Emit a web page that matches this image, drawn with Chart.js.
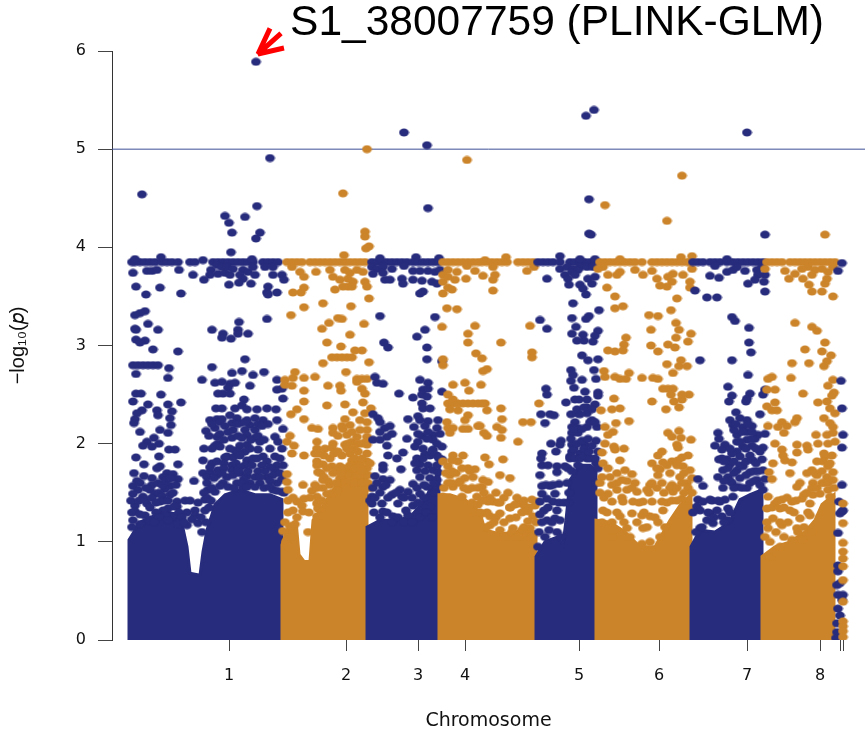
<!DOCTYPE html>
<html>
<head>
<meta charset="utf-8">
<title>S1_38007759 (PLINK-GLM)</title>
<script src="https://cdn.jsdelivr.net/npm/chart.js@4/dist/chart.umd.js"></script>
<style>
html, body { margin: 0; padding: 0; background: #fff; }
canvas { display: block; }
</style>
</head>
<body>
<canvas id="manhattan" width="866" height="732"></canvas>
<script>
var NAVY = '#282c7c', ORANGE = '#cc842a';

// x = cumulative position along the genome, y = -log10(p)
var tickPositions = [117, 234, 306, 353, 467, 547, 635, 708, 728, 731];
var tickLabels = ['1', '2', '3', '4', '5', '6', '7', '8', '', ''];
var yTicks = [0, 1, 2, 3, 4, 5, 6];
var threshold = 5;
var arrowX = [146, 158, 146, 169, 146, 172];
var arrowY = [5.97, 6.23, 5.97, 6.18, 5.97, 6.03];

// top of the solid mass of overlapping points, per chromosome: x, y, x, y ...
var chr1Mass = [17,0, 17,1.02, 28,1.2, 38,1.25, 53,1.3, 68,1.28, 75,0.95, 78,0.68, 88,0.66, 91,0.9, 95,1.12, 103,1.38, 113,1.48, 128,1.53, 143,1.48, 158,1.48, 170,1.43, 170,0];
var chr2Mass = [170,0, 170,0.97, 175,1.12, 184,1.22, 187,0.87, 192,0.8, 198,0.8, 201,1.22, 208,1.32, 218,1.48, 228,1.63, 238,1.77, 248,1.83, 255,1.73, 255,0];
var chr3Mass = [255,0, 255,1.15, 268,1.22, 283,1.22, 298,1.25, 313,1.43, 327,1.73, 327,0];
var chr4Mass = [327,0, 327,1.48, 338,1.48, 353,1.43, 368,1.3, 373,1.12, 388,1.08, 403,1.1, 413,1.12, 424,1.1, 424,0];
var chr5Mass = [424,0, 424,0.85, 433,1, 446,1.05, 449,1, 451,0.97, 454,1.22, 458,1.63, 468,1.78, 478,1.78, 484,1.73, 484,0];
var chr6Mass = [484,0, 484,1.22, 498,1.2, 513,1.1, 528,0.95, 543,0.95, 558,1.22, 568,1.37, 579,1.48, 579,0];
var chr7Mass = [579,0, 579,0.95, 588,1.12, 603,1.1, 618,1.2, 623,1.32, 628,1.43, 638,1.48, 650,1.53, 650,0];
var chr8Mass = [650,0, 650,0.85, 663,0.95, 678,1, 693,1.1, 703,1.22, 710,1.38, 722,1.48, 722,0];

// single markers above the mass: x, y, x, y ...
var chr1 = [144,5.89, 158,4.91, 30,4.54, 145,4.42, 113,4.32, 133,4.31, 117,4.25, 120,4.15, 148,4.15, 144,4.09, 119,3.95,
20,3.85, 23,3.85, 28,3.85, 33,3.85, 38,3.85, 43,3.85, 50,3.85, 55,3.85, 60,3.85, 66,3.85, 78,3.85, 83,3.85, 91,3.87, 101,3.85, 106,3.85, 111,3.85, 116,3.85, 121,3.85, 126,3.85, 131,3.85, 136,3.85, 141,3.85, 151,3.85, 156,3.85, 161,3.85, 166,3.85,
23,3.88, 49,3.9, 140,3.88, 21,3.74, 35,3.76, 40,3.76, 45,3.77, 67,3.77, 81,3.72, 99,3.77, 98,3.72, 106,3.73, 113,3.74, 118,3.72, 105,3.82, 110,3.8, 115,3.8, 121,3.78, 131,3.77, 136,3.75, 143,3.72, 141,3.8, 128,3.72, 131,3.68, 92,3.67, 117,3.62, 127,3.64, 139,3.63,
153,3.8, 161,3.8, 161,3.72, 170,3.72, 172,3.67, 24,3.6, 48,3.59, 34,3.52, 69,3.53, 156,3.6, 155,3.54, 156,3.52, 165,3.54, 33,3.35, 28,3.33, 23,3.31, 36,3.22, 155,3.27, 127,3.24, 23,3.17, 46,3.16, 100,3.16, 126,3.16,
24,3.16, 126,3.12, 136,3.12, 111,3.12, 110,3.08, 119,3.07, 24,3.06, 33,3.05, 28,3.03, 41,2.96, 66,2.94,
21,2.8, 26,2.8, 31,2.8, 36,2.8, 41,2.8, 46,2.8, 57,2.77, 24,2.71, 56,2.67, 90,2.65, 100,2.78, 133,2.86, 120,2.72, 130,2.74, 141,2.7, 152,2.73, 103,2.62, 110,2.63, 118,2.61, 123,2.62, 116,2.57, 138,2.59, 165,2.65, 165,2.55, 170,2.56,
24,2.51, 29,2.51, 49,2.5, 106,2.51, 111,2.51, 118,2.51, 21,2.43, 36,2.4, 56,2.4, 69,2.42, 132,2.45, 171,2.46,
104,2.36, 110,2.36, 123,2.36, 130,2.39, 135,2.35, 145,2.35, 155,2.36, 164,2.35, 30,2.34, 25,2.31, 45,2.34, 46,2.29, 60,2.33, 23,2.25, 58,2.26, 59,2.19, 22,2.21,
118,2.29, 125,2.26, 98,2.24, 105,2.25, 110,2.25, 135,2.24, 143,2.26, 151,2.24, 156,2.2, 165,2.24, 120,2.21, 128,2.21, 138,2.19,
28,2.12, 48,2.14, 56,2.11, 94,2.13, 103,2.16, 121,2.14, 133,2.14, 143,2.14, 171,2.15, 105,2.07, 120,2.06, 135,2.09, 143,2.06, 163,2.07, 42,2.06, 35,2.02, 47,2, 31,1.98, 40,1.97, 106,2, 128,1.98, 135,1.99, 148,2.02, 166,2.02, 92,1.95, 103,1.98, 57,1.94, 63,1.94, 123,1.93, 133,1.92,
47,1.87, 24,1.86, 91,1.83, 115,1.87, 121,1.86, 135,1.83, 141,1.85, 151,1.87, 163,1.87, 100,1.8, 32,1.79, 66,1.79, 48,1.77, 120,1.78, 133,1.78, 165,1.78, 171,1.78, 45,1.75, 106,1.73, 120,1.73, 163,1.73,
22,1.7, 91,1.7, 98,1.71, 55,1.7, 61,1.69, 128,1.7, 32,1.67, 40,1.65, 51,1.66, 95,1.66, 105,1.68, 115,1.66, 121,1.68, 135,1.67, 143,1.66, 155,1.66, 161,1.68, 82,1.62, 66,1.64, 60,1.65, 21,1.57, 40,1.58, 46,1.6, 58,1.57, 95,1.6, 111,1.6, 125,1.6, 138,1.6, 148,1.6, 165,1.6,
26,1.53, 38,1.53, 53,1.54, 21,1.49, 31,1.46, 43,1.49, 96,1.53, 103,1.51, 131,1.55, 161,1.53, 170,1.51, 48,1.41, 65,1.41, 73,1.42, 78,1.42, 86,1.4, 23,1.37, 35,1.39, 56,1.34, 51,1.32, 65,1.36, 93,1.32, 23,1.31, 75,1.3, 83,1.32, 83,1.27, 33,1.27, 61,1.26, 53,1.27, 93,1.43, 80,1.23, 86,1.19, 75,1.17, 21,1.22, 38,1.21, 68,1.21];

var chr2 = [255,5, 231,4.55, 253,4.16, 253,4.11, 257,4.01, 254,3.99, 232,3.92,
175,3.85, 180,3.85, 185,3.85, 190,3.85, 198,3.85, 203,3.85, 208,3.85, 213,3.85, 218,3.85, 223,3.85, 228,3.85, 233,3.85, 238,3.85, 243,3.85, 248,3.85, 253,3.85,
180,3.8, 188,3.75, 192,3.7, 204,3.75, 218,3.77, 221,3.7, 228,3.67, 233,3.77, 238,3.74, 245,3.77, 236,3.68, 241,3.65, 251,3.75, 253,3.65, 236,3.6, 223,3.57, 231,3.6, 240,3.6, 255,3.6, 192,3.59, 189,3.54, 181,3.54, 257,3.48, 211,3.43, 239,3.4, 192,3.39, 179,3.31, 226,3.28, 230,3.27, 217,3.23, 252,3.22, 210,3.17,
238,3.11, 215,3.03, 229,2.99, 250,2.95, 243,2.95, 220,2.88, 225,2.88, 230,2.88, 235,2.88, 240,2.88, 211,2.82, 257,2.83, 234,2.73, 183,2.73, 203,2.68, 192,2.67, 181,2.67, 173,2.65, 173,2.6, 180,2.59, 245,2.66, 250,2.66, 255,2.66, 245,2.63, 250,2.56, 253,2.51,
216,2.59, 228,2.59, 229,2.54, 192,2.54, 192,2.43, 215,2.39, 233,2.4, 251,2.42, 185,2.35, 179,2.3, 241,2.32, 259,2.36, 253,2.31, 192,2.25, 233,2.25, 248,2.24, 255,2.22, 238,2.19, 230,2.18, 221,2.16, 200,2.16, 206,2.15, 178,2.08, 221,2.11, 255,2.14, 235,2.09, 245,2.07, 255,2.07,
175,2.02, 205,2.02, 221,2, 233,1.99, 255,1.99, 182,1.98, 205,1.95, 213,1.95, 220,1.96, 235,1.95, 180,1.9, 192,1.88, 203,1.9, 238,1.9, 246,1.92, 255,1.9, 205,1.82, 211,1.79, 240,1.83, 255,1.82, 220,1.77, 228,1.77, 205,1.78, 241,1.75, 255,1.75, 206,1.71, 175,1.69, 221,1.7, 235,1.68, 248,1.68, 256,1.68, 228,1.65,
175,1.61, 211,1.63, 203,1.58, 191,1.58, 218,1.58, 176,1.53, 233,1.6, 205,1.46, 211,1.55, 192,1.44, 185,1.41, 205,1.39, 190,1.37, 181,1.32, 191,1.31, 215,1.49, 206,1.34, 183,1.18, 178,1.16, 171,1.11, 196,1.1, 205,1.26];

var chr3 = [292,5.17, 315,5.04, 316,4.4, 304,3.9,
260,3.85, 265,3.85, 270,3.85, 275,3.85, 280,3.85, 285,3.85, 290,3.85, 295,3.85, 301,3.85, 306,3.85, 311,3.85, 316,3.85, 321,3.85, 326,3.85, 268,3.89, 327,3.89,
260,3.8, 265,3.78, 271,3.8, 280,3.78, 261,3.73, 271,3.74, 292,3.81, 301,3.76, 308,3.76, 316,3.76, 323,3.75, 328,3.77, 273,3.67, 278,3.67, 290,3.68, 291,3.63, 301,3.67, 310,3.66, 320,3.65, 325,3.63, 311,3.55, 308,3.53, 268,3.3, 323,3.29, 313,3.16,
305,3.09, 272,3.03, 276,2.98, 315,2.98, 315,2.86, 330,2.84, 263,2.68, 265,2.62, 271,2.61, 308,2.65, 316,2.62, 311,2.55, 316,2.56, 287,2.51, 330,2.53, 301,2.47, 310,2.5, 315,2.48, 310,2.41, 311,2.36, 318,2.36, 261,2.3, 266,2.26, 268,2.22, 296,2.25, 306,2.28, 308,2.24, 316,2.23, 326,2.24,
278,2.18, 273,2.16, 302,2.17, 313,2.18, 325,2.16, 268,2.12, 280,2.1, 275,2.07, 310,2.08, 321,2.09, 261,2.04, 268,2.04, 295,2.05, 306,2.02, 321,2.04, 275,1.98, 303,1.97, 311,1.95, 330,1.97, 291,1.91, 276,1.88, 285,1.85, 313,1.89, 321,1.94, 271,1.78, 330,1.84, 308,1.79, 316,1.78, 289,1.74, 271,1.74, 263,1.67, 305,1.73, 321,1.73, 326,1.71,
271,1.64, 278,1.63, 308,1.66, 318,1.65, 325,1.63, 301,1.59, 261,1.55, 271,1.56, 288,1.53, 315,1.56, 326,1.56, 260,1.46, 280,1.48, 296,1.51, 308,1.49, 270,1.39, 290,1.46, 286,1.39, 260,1.39, 271,1.31, 281,1.26, 296,1.27, 318,1.36, 301,1.37];

var chr4 = [355,4.89, 331,3.85, 336,3.85, 341,3.85, 346,3.85, 351,3.85, 356,3.85, 361,3.85, 366,3.85, 355,3.81, 363,3.76, 336,3.77, 345,3.75, 331,3.72, 336,3.7, 343,3.67, 354,3.68, 331,3.65, 336,3.59, 340,3.57, 331,3.53, 335,3.38, 345,3.37, 330,3.19, 363,3.2,
373,3.87, 394,3.9, 395,3.85, 370,3.85, 375,3.85, 380,3.85, 385,3.85, 390,3.85, 406,3.85, 411,3.85, 416,3.85, 421,3.85, 381,3.8, 371,3.71, 383,3.72, 381,3.67, 415,3.76, 422,3.8, 381,3.56,
356,3.12, 356,3.03, 364,2.92, 331,2.86, 331,2.8, 341,2.6, 353,2.62, 357,2.54, 336,2.5, 341,2.45, 336,2.41, 341,2.41, 346,2.41, 351,2.41, 356,2.41, 361,2.41, 366,2.41, 338,2.35, 346,2.34, 356,2.29, 353,2.24, 335,2.22, 336,2.16, 341,2.16, 338,2.11, 351,2.15, 356,2.15, 366,2.18,
341,1.88, 351,1.88, 340,1.83, 346,1.82, 331,1.82, 336,1.77, 350,1.75, 356,1.75, 363,1.74, 338,1.68, 353,1.65, 361,1.66, 336,1.6, 341,1.56, 356,1.53, 350,1.46, 331,1.46, 365,1.46,
418,3.2, 389,3.03, 420,2.93, 420,2.88, 370,2.87, 375,2.76, 371,2.74, 369,2.6, 373,2.41, 375,2.34, 370,2.41, 389,2.36, 390,2.25, 385,2.17, 390,2.14, 368,2.18, 411,2.22, 419,2.22, 372,2.11, 375,2.08, 389,2.06, 406,2.02, 427,2.41,
373,1.86, 391,1.84, 377,1.79, 388,1.68, 398,1.65, 371,1.63, 376,1.61, 370,1.56, 373,1.43, 381,1.41, 376,1.41, 386,1.4, 407,1.39, 420,1.43, 413,1.36, 398,1.35, 423,1.37, 425,1.41, 371,1.29, 388,1.29, 398,1.24, 416,1.31, 421,1.26, 378,1.26, 416,1.21, 401,1.14, 410,1.12, 388,1.12, 418,1.14, 378,1.17];

var chr5 = [482,5.4, 474,5.34, 477,4.49, 477,4.14, 479,4.13, 448,3.91,
426,3.85, 431,3.85, 436,3.85, 441,3.85, 448,3.85, 458,3.85, 463,3.85, 468,3.85, 473,3.85, 478,3.85, 483,3.85, 468,3.88, 483,3.88, 448,3.78, 455,3.8, 461,3.78, 468,3.8, 475,3.8, 481,3.8, 453,3.72, 460,3.75, 466,3.77, 456,3.68, 463,3.72, 435,3.68, 476,3.68, 483,3.7, 480,3.63, 457,3.62, 468,3.62, 471,3.58, 474,3.52, 461,3.43, 487,3.36, 460,3.28, 477,3.3, 474,3.27, 428,3.26, 464,3.19, 435,3.17,
460,3.12, 486,3.15, 471,3.11, 483,3.1, 465,3.05, 472,3.05, 481,3.04, 470,2.9, 476,2.85, 486,2.86, 459,2.75, 482,2.75, 459,2.64, 470,2.65, 484,2.66, 461,2.7, 462,2.57, 434,2.56, 435,2.5, 473,2.53, 486,2.52, 486,2.49, 454,2.42, 463,2.45, 467,2.45, 475,2.45, 483,2.4, 475,2.37,
429,2.3, 438,2.3, 442,2.29, 459,2.3, 465,2.31, 475,2.31, 433,2.21, 463,2.22, 480,2.24, 475,2.17, 485,2.17, 460,2.17, 466,2.16, 460,2.11, 466,2.11, 449,2.03, 484,2.03, 439,2, 448,1.99, 460,1.99, 473,1.99, 480,1.98, 444,1.92, 430,1.9, 460,1.92, 468,1.9, 486,1.92, 429,1.85, 458,1.87, 475,1.85,
430,1.78, 436,1.78, 445,1.77, 453,1.77, 428,1.68, 445,1.71, 430,1.57, 438,1.57, 447,1.59, 430,1.49, 443,1.49, 441,1.41, 435,1.44, 445,1.32, 428,1.41, 443,1.24, 448,1.22, 435,1.22];

var chr6 = [570,4.73, 493,4.43, 555,4.27, 569,3.9, 580,3.91,
488,3.85, 493,3.85, 498,3.85, 503,3.85, 508,3.85, 513,3.85, 518,3.85, 523,3.85, 530,3.85, 540,3.85, 545,3.85, 550,3.85, 555,3.85, 560,3.85, 565,3.85, 570,3.85, 575,3.85, 578,3.85, 508,3.88,
486,3.78, 491,3.8, 496,3.72, 508,3.75, 505,3.72, 523,3.77, 531,3.72, 540,3.76, 571,3.72, 580,3.78, 561,3.73, 545,3.68, 556,3.7, 560,3.65, 548,3.61, 555,3.6, 578,3.65, 578,3.59, 495,3.59, 503,3.5, 511,3.4, 503,3.38, 565,3.48, 559,3.36, 537,3.31, 546,3.3, 564,3.23, 539,3.16, 567,3.16,
579,3.12, 564,3.08, 576,3.04, 539,3, 556,3.01, 563,2.98, 514,3.08, 512,3.01, 496,2.95, 503,2.94, 511,2.95, 546,2.94, 569,2.85, 555,2.81, 567,2.79, 575,2.79, 492,2.74, 561,2.72, 517,2.72, 493,2.68, 503,2.68, 508,2.66, 514,2.66, 530,2.67, 541,2.67, 546,2.66,
551,2.56, 556,2.56, 561,2.56, 577,2.5, 559,2.5, 570,2.5, 502,2.46, 540,2.43, 562,2.43, 570,2.45, 489,2.34, 500,2.35, 508,2.36, 554,2.35, 567,2.37, 517,2.23, 504,2.21, 493,2.17, 501,2.12, 496,2.09, 556,2.11, 567,2.13, 560,2.07, 569,2.06, 579,2.04,
493,2, 502,1.97, 512,1.95, 565,1.99, 503,1.94, 566,1.96, 490,1.91, 550,1.92, 546,1.88, 576,1.88, 508,1.83, 570,1.86, 491,1.8, 540,1.8, 551,1.81, 560,1.82, 566,1.83, 496,1.75, 548,1.74, 571,1.77, 513,1.73, 505,1.7, 578,1.73, 520,1.69, 558,1.7,
490,1.66, 498,1.66, 546,1.68, 568,1.66, 510,1.63, 580,1.65, 523,1.6, 488,1.6, 550,1.6, 560,1.58, 538,1.58, 575,1.6, 496,1.49, 535,1.53, 515,1.53, 525,1.51, 561,1.51, 505,1.53, 550,1.41, 531,1.41, 540,1.41, 521,1.41, 511,1.41, 500,1.41, 570,1.44, 520,1.29, 530,1.27, 508,1.26, 538,1.26, 551,1.32, 491,1.32, 531,1.14, 515,1.14];

var chr7 = [635,5.17, 653,4.13,
581,3.85, 586,3.85, 591,3.85, 598,3.85, 603,3.85, 608,3.85, 615,3.85, 621,3.85, 626,3.85, 631,3.85, 636,3.85, 641,3.85, 646,3.85, 651,3.85, 615,3.88, 603,3.81, 615,3.75, 621,3.77, 625,3.8, 633,3.76, 645,3.77, 650,3.8, 653,3.72, 646,3.72, 643,3.67, 652,3.65, 598,3.71, 607,3.69, 636,3.63, 653,3.55, 583,3.56, 595,3.49, 605,3.49, 620,3.29, 623,3.25, 637,3.18,
637,3.03, 639,2.93, 588,2.85, 620,2.85, 636,2.7, 616,2.58, 620,2.49, 638,2.51, 635,2.46, 617,2.43, 634,2.43, 651,2.5, 653,2.55, 624,2.32, 648,2.3, 618,2.24, 628,2.26, 635,2.24, 621,2.19, 631,2.17, 640,2.18, 606,2.11, 625,2.09, 635,2.12, 646,2.09, 653,2.1, 607,2.05, 625,2.02, 635,2.04, 643,2.05,
603,1.98, 613,1.99, 631,1.97, 640,1.98, 651,1.96, 610,1.94, 625,1.92, 648,1.92, 628,1.87, 638,1.88, 607,1.84, 615,1.84, 650,1.84, 641,1.83, 618,1.79, 631,1.77, 611,1.73, 625,1.73, 651,1.73, 638,1.71, 606,1.66, 616,1.66, 628,1.65, 653,1.64, 586,1.64, 591,1.57, 620,1.6, 645,1.63, 611,1.55, 626,1.56, 651,1.53, 635,1.55,
586,1.43, 598,1.43, 613,1.43, 608,1.41, 591,1.41, 621,1.46, 588,1.32, 616,1.34, 598,1.29, 610,1.26, 585,1.36, 605,1.32, 588,1.14, 601,1.19, 616,1.22, 595,1.22];

var chr8 = [713,4.13,
655,3.85, 660,3.85, 665,3.85, 670,3.85, 678,3.85, 683,3.85, 688,3.85, 693,3.85, 698,3.85, 703,3.85, 708,3.85, 713,3.85, 718,3.85, 723,3.85, 653,3.78, 673,3.76, 683,3.73, 690,3.78, 696,3.8, 703,3.77, 710,3.78, 716,3.75, 721,3.8, 677,3.68, 691,3.68, 700,3.72, 715,3.68, 713,3.63, 697,3.62, 700,3.55, 710,3.55, 721,3.5, 683,3.23, 700,3.19,
705,3.15, 713,3.03, 693,2.96, 710,2.94, 719,2.9, 680,2.82, 697,2.82, 715,2.84, 712,2.79, 660,2.68, 656,2.66, 679,2.67, 721,2.65, 716,2.59, 655,2.55, 663,2.55, 691,2.51, 722,2.52, 720,2.49, 663,2.42, 706,2.42, 715,2.43, 655,2.38, 660,2.34, 665,2.34, 718,2.36, 723,2.31,
685,2.26, 683,2.22, 670,2.22, 712,2.26, 718,2.21, 656,2.18, 666,2.17, 675,2.18, 721,2.17, 672,2.11, 704,2.09, 715,2.09, 721,2.11, 663,2, 685,1.99, 706,2, 695,1.98, 716,2, 723,2.02, 670,1.94, 685,1.91, 696,1.94, 671,1.88, 713,1.87, 720,1.88, 673,1.83, 680,1.81, 661,1.8, 711,1.82, 716,1.77, 700,1.73, 657,1.71, 678,1.7, 721,1.71, 705,1.68,
660,1.64, 715,1.66, 701,1.6, 688,1.6, 685,1.56, 710,1.6, 721,1.63, 716,1.53, 701,1.48, 656,1.46, 690,1.44, 708,1.49, 670,1.43, 680,1.41, 663,1.39, 718,1.46, 655,1.34, 668,1.34, 698,1.39, 678,1.32, 688,1.24, 661,1.24, 698,1.27, 670,1.17, 685,1.14, 656,1.14];

var chr9 = [730,3.84, 726,3.76, 729,2.64, 730,2.36, 731,2.09, 730,1.96, 730,1.58, 727,1.41, 730,1.31, 726,1.09, 728,1.29, 731,1.32, 726,0.76, 726,0.7, 725,0.56, 728,0.58, 726,0.46, 731,0.46, 730,0.41, 726,0.32, 728,0.25, 725,0.17, 725,0.08, 724,0.02];
var chr10 = [731,1.39, 731,1.19, 731,0.99, 731,0.9, 731,0.83, 731,0.75, 731,0.61, 731,0.39, 731,0.19, 731,0.14, 731,0.09, 731,0.03];

// crowded stretches just above the mass, read block by block
var chr1Dense = [100,2.2, 108,2.22, 113,2.18, 125,2.2, 133,2.22, 146,2.2, 150,2.18, 97,2.08, 108,2.1, 116,2.12, 126,2.08, 130,2.06, 139,2.04, 146,2.08, 152,2.04, 112,2.04, 100,1.95, 108,1.97, 118,1.95, 126,1.92, 138,1.95, 146,1.94, 158,1.95, 170,1.95, 128,1.88, 113,1.86, 145,1.85, 155,1.82, 168,1.85, 105,1.82, 112,1.8, 124,1.8, 128,1.76, 140,1.78, 150,1.78, 158,1.76, 98,1.76, 112,1.75, 126,1.72, 136,1.72, 146,1.72, 153,1.72, 168,1.7, 102,1.65, 110,1.7, 132,1.64, 148,1.66, 158,1.62, 170,1.64, 100,1.55, 108,1.57, 116,1.56, 122,1.55, 130,1.6, 135,1.56, 143,1.56, 152,1.55, 158,1.56, 165,1.52, 172,1.5,
19,1.42, 20,1.3, 20,1.15, 27,1.42, 28,1.28, 33,1.43, 38,1.35, 40,1.45, 44,1.4, 47,1.5, 50,1.47, 52,1.42, 56,1.42, 58,1.48, 61,1.5, 62,1.36, 67,1.3, 70,1.25, 44,1.3, 47,1.25, 28,1.18, 42,1.2, 56,1.22, 66,1.18, 72,1.2, 25,1.62, 28,1.6, 34,1.55, 50,1.58, 54,1.62, 58,1.65, 64,1.58, 92,1.5, 95,1.45, 99,1.42, 94,1.2, 89,1.25, 97,1.35, 90,1.1];
var chr2Dense = [207,1.9, 212,1.88, 218,1.85, 222,1.9, 226,1.92, 230,1.88, 243,1.85, 250,1.85, 215,1.75, 209,1.7, 224,1.72, 232,1.75, 238,1.78, 244,1.75, 250,1.72, 212,1.66, 216,1.62, 224,1.6, 238,1.62, 243,1.6, 250,1.6, 256,1.6, 200,1.52, 205,1.55, 220,1.5, 225,1.52, 240,2.02, 246,2, 250,2, 240,2.12, 248,2.14, 226,2.08, 231,2.15, 206,1.4, 210,1.42, 198,1.45, 197,1.3, 185,1.25, 176,1.3, 173,1.2, 176,1.42, 181,1.45, 174,1, 176,0.95, 178,1.05, 234,1.55, 229,1.7, 236,2, 242,1.95, 254,2.02, 258,1.8, 258,1.55];
var chr3Dense = [258,1.42, 262,1.3, 268,1.25, 275,1.3, 280,1.2, 286,1.25, 292,1.2, 300,1.2, 308,1.25, 314,1.3, 320,1.25, 263,1.45, 268,1.5, 276,1.45, 284,1.5, 292,1.45, 300,1.45, 306,1.4, 312,1.45, 322,1.5, 327,1.85, 265,1.6, 274,1.58, 294,1.32, 305,1.55, 312,1.58, 322,1.6, 305,1.85, 311,1.85, 318,1.88, 325,1.88, 303,1.8, 313,1.72, 325,1.78, 320,1.92, 306,2.1, 315,2.05, 325,2, 328,2.1, 316,2.12];
var chr4Dense = [332,1.55, 340,1.6, 347,1.6, 352,1.55, 360,1.55, 366,1.55, 334,1.7, 344,1.7, 358,1.72, 372,1.5, 378,1.45, 384,1.5, 392,1.45, 396,1.5, 405,1.45, 412,1.42, 360,1.4, 366,1.38, 375,1.3, 384,1.25, 392,1.2, 398,1.35, 404,1.25, 410,1.3, 417,1.35, 424,1.2, 374,1.15, 382,1.2, 392,1.05, 400,1.1, 406,1.05, 412,1.15, 420,1.05, 370,1.42, 362,1.3, 368,1.3, 388,1.4, 403,1.38, 340,1.72, 348,1.62];
var chr5Dense = [426,0.95, 430,1.2, 427,1.1, 433,1.05, 437,1.12, 440,1.2, 445,1.1, 449,1.05, 432,1.32, 436,1.35, 447,1.4, 428,1.28, 434,1.58, 441,1.58, 458,1.85, 463,1.85, 468,1.85, 473,1.88, 478,1.85, 484,1.8, 462,1.95, 472,1.95, 477,1.92, 483,1.85, 456,1.75, 486,1.75, 460,1.72, 466,1.78, 455,1.6, 457,1.5, 456,1.4, 459,2.05, 465,2, 470,2.03, 476,2.05, 462,2.15, 470,2.15, 478,2.22, 483,2.22, 468,2.3, 465,2.35, 472,2.37, 480,2.35, 484,1.6, 452,1.4];
var chr6Dense = [488,1.5, 492,1.45, 500,1.58, 505,1.6, 510,1.45, 515,1.62, 520,1.55, 527,1.4, 532,1.3, 537,1.5, 540,1.6, 545,1.55, 552,1.5, 558,1.55, 565,1.55, 570,1.6, 576,1.55, 580,1.5, 495,1.3, 500,1.2, 505,1.3, 512,1.2, 525,1.2, 535,1.15, 543,1.25, 548,1.05, 555,1.4, 560,1.42, 565,1.42, 572,1.5, 578,1.35, 490,1.2, 518,1.05, 530,0.98, 538,1, 546,1.2, 553,1.15, 500,1.05, 545,1.75, 555,1.78, 565,1.78, 572,1.7];
var chr7Dense = [581,1.3, 584,1.1, 590,1.15, 596,1.3, 600,1.42, 602,1.25, 606,1.42, 612,1.2, 618,1.3, 622,1.55, 630,1.55, 638,1.6, 642,1.62, 648,1.58, 618,1.62, 612,1.62, 622,1.7, 634,1.68, 642,1.72, 646,1.72, 616,1.75, 622,1.82, 628,1.78, 634,1.82, 644,1.8, 610,1.85, 620,1.9, 634,1.95, 644,1.95, 618,1.95, 628,2.02, 640,2.05, 630,2.12, 640,2.12, 622,2.14, 624,2.2, 636,2.2, 612,1.82];
var chr8Dense = [653,1.05, 655,1.2, 658,1, 664,1.1, 668,1.2, 672,1.05, 676,1.2, 682,1.3, 686,1.1, 692,1.15, 696,1.3, 700,1.1, 660,1.35, 666,1.42, 672,1.35, 675,1.45, 684,1.42, 692,1.48, 695,1.5, 700,1.55, 705,1.55, 712,1.6, 716,1.6, 722,1.55, 658,0.85, 668,0.95, 680,1.02, 690,1.02, 695,1.7, 703,1.7, 710,1.72, 712,1.9, 718,1.8, 705,1.82];

var chromosomes = [chr1.concat(chr1Dense), chr2.concat(chr2Dense), chr3.concat(chr3Dense), chr4.concat(chr4Dense), chr5.concat(chr5Dense), chr6.concat(chr6Dense), chr7.concat(chr7Dense), chr8.concat(chr8Dense), chr9, chr10];
var masses = [chr1Mass, chr2Mass, chr3Mass, chr4Mass, chr5Mass, chr6Mass, chr7Mass, chr8Mass, [], []];

function toPoints(flat) {
    var pts = [];
    for (var i = 0; i < flat.length; i += 2) {
        pts.push({x: flat[i], y: flat[i + 1]});
    }
    return pts;
}

// markers are a little wider than tall in the reference
function dotStyle(color) {
    var c = document.createElement('canvas');
    c.width = 11;
    c.height = 9;
    var g = c.getContext('2d');
    g.fillStyle = color;
    g.beginPath();
    g.ellipse(5.5, 4.5, 4.9, 4, 0, 0, Math.PI * 2);
    g.fill();
    return c;
}

var datasets = [];
datasets.push({
    label: 'arrow',
    data: arrowX.map(function(x, i) { return {x: x, y: arrowY[i]}; }),
    showLine: true,
    borderColor: '#ff0000',
    borderWidth: 5,
    borderJoinStyle: 'bevel',
    pointRadius: 0,
    clip: false
});
// first dataset ends up on top, later chromosomes overlap earlier ones
for (var i = chromosomes.length - 1; i >= 0; i--) {
    var color = i % 2 == 0 ? NAVY : ORANGE;
    datasets.push({
        label: 'chr' + (i + 1),
        data: toPoints(chromosomes[i]),
        pointStyle: dotStyle(color),
        pointRadius: 4,
        showLine: false
    });
    if (masses[i].length) {
        datasets.push({
            label: 'chr' + (i + 1) + ' mass',
            data: toPoints(masses[i]),
            showLine: true,
            borderWidth: 3,
            borderColor: color,
            backgroundColor: color,
            fill: 'origin',
            tension: 0,
            pointRadius: 0
        });
    }
}
datasets.push({
    label: 'threshold',
    data: [{x: 0, y: threshold}, {x: 753, y: threshold}],
    showLine: true,
    borderColor: '#3c4f96',
    borderWidth: 1,
    pointRadius: 0
});

var moveTitle = {
    id: 'moveTitle',
    afterLayout: function(chart) {
        chart.titleBlock.right = 824;
    }
};

new Chart(document.getElementById('manhattan'), {
    type: 'scatter',
    data: {datasets: datasets},
    plugins: [moveTitle],
    options: {
        responsive: false,
        animation: false,
        layout: {autoPadding: false, padding: {right: 1, left: 0, top: 0, bottom: 0}},
        plugins: {
            legend: {display: false},
            tooltip: {enabled: false},
            title: {
                display: true,
                text: 'S1_38007759 (PLINK-GLM)',
                align: 'end',
                color: '#000',
                font: {family: '"Liberation Sans"', size: 42.5, weight: 'normal', lineHeight: 1},
                padding: {top: 2, bottom: 6.5}
            }
        },
        scales: {
            x: {
                type: 'linear',
                min: 0,
                max: 753,
                afterFit: function(s) { s.height = 92; s.paddingLeft = 0; s.paddingRight = 0; },
                afterBuildTicks: function(s) {
                    s.ticks = tickPositions.map(function(v) { return {value: v}; });
                },
                border: {display: false},
                grid: {drawOnChartArea: false, drawTicks: true, tickLength: 11, color: '#444'},
                ticks: {
                    autoSkip: false,
                    maxRotation: 0,
                    padding: 15,
                    color: '#111',
                    font: {family: '"DejaVu Sans", sans-serif', size: 16},
                    callback: function(v) { return tickLabels[tickPositions.indexOf(v)]; }
                },
                title: {
                    display: true,
                    text: 'Chromosome',
                    color: '#111',
                    font: {family: '"DejaVu Sans", sans-serif', size: 19},
                    padding: {top: 0, bottom: 0}
                }
            },
            y: {
                min: 0,
                max: 6,
                afterFit: function(s) { s.width = 112; },
                afterBuildTicks: function(s) {
                    s.ticks = yTicks.map(function(v) { return {value: v}; });
                },
                border: {display: true, color: '#333', width: 1},
                grid: {drawOnChartArea: false, drawTicks: true, tickLength: 14, color: '#444'},
                ticks: {padding: 12, color: '#111', font: {family: '"DejaVu Sans", sans-serif', size: 16}},
                title: {
                    display: true,
                    text: '\u2212log\u2081\u2080(\ud835\udc5d)',
                    color: '#111',
                    font: {family: '"Liberation Sans", "DejaVu Sans", sans-serif', size: 20},
                    padding: {top: 6, bottom: 0}
                }
            }
        }
    }
});
</script>
</body>
</html>
